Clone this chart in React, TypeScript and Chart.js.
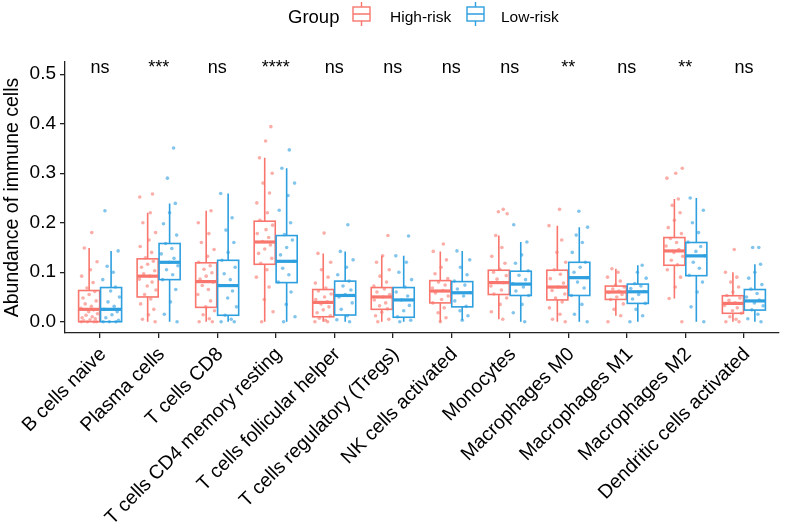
import React, { useEffect, useRef } from "react";
import { Chart, registerables } from "chart.js";

Chart.register(...registerables);

const CATEGORIES = [
  "B cells naive",
  "Plasma cells",
  "T cells CD8",
  "T cells CD4 memory resting",
  "T cells follicular helper",
  "T cells regulatory (Tregs)",
  "NK cells activated",
  "Monocytes",
  "Macrophages M0",
  "Macrophages M1",
  "Macrophages M2",
  "Dendritic cells activated",
];

const SIG_LABELS = ["ns", "***", "ns", "****", "ns", "ns", "ns", "ns", "**", "ns", "**", "ns"];

const GROUP_TITLE = "Group";
const GROUPS = ["High-risk", "Low-risk"];

const Y_TICKS = [0, 0.1, 0.2, 0.3, 0.4, 0.5];

// box statistics: [lower whisker, Q1, median, Q3, upper whisker]
const HIGH_BOX = [
  [0, 0, 0.025, 0.063, 0.149],
  [0, 0.05, 0.092, 0.127, 0.22],
  [0, 0.029, 0.081, 0.119, 0.224],
  [0, 0.116, 0.161, 0.203, 0.331],
  [0, 0.01, 0.039, 0.065, 0.138],
  [0, 0.025, 0.05, 0.069, 0.133],
  [0, 0.038, 0.062, 0.083, 0.142],
  [0.005, 0.055, 0.079, 0.104, 0.174],
  [0, 0.044, 0.07, 0.104, 0.194],
  [0.012, 0.045, 0.06, 0.072, 0.107],
  [0.047, 0.114, 0.143, 0.17, 0.248],
  [0, 0.017, 0.037, 0.0525, 0.1],
];

const LOW_BOX = [
  [0, 0, 0.025, 0.069, 0.143],
  [0, 0.085, 0.12, 0.158, 0.239],
  [0, 0.013, 0.073, 0.124, 0.259],
  [0, 0.079, 0.122, 0.174, 0.31],
  [0, 0.0135, 0.053, 0.082, 0.142],
  [0, 0.009, 0.044, 0.069, 0.133],
  [0.003, 0.03, 0.0585, 0.081, 0.143],
  [0, 0.053, 0.076, 0.102, 0.161],
  [0, 0.053, 0.089, 0.12, 0.191],
  [0, 0.037, 0.0605, 0.076, 0.114],
  [0, 0.093, 0.133, 0.16, 0.25],
  [0, 0.0235, 0.042, 0.065, 0.116],
];

// individual sample values (estimated from the jittered points)
const HIGH_POINTS = [
  [0, 0, 0, 0, 0.002, 0.004, 0.006, 0.008, 0.01, 0.013, 0.016, 0.02, 0.024, 0.027, 0.031, 0.036, 0.042, 0.048, 0.055, 0.061, 0.068, 0.079, 0.092, 0.105, 0.121, 0.149, 0.18],
  [0, 0.005, 0.014, 0.025, 0.036, 0.046, 0.055, 0.064, 0.072, 0.08, 0.086, 0.092, 0.097, 0.103, 0.11, 0.116, 0.122, 0.129, 0.14, 0.152, 0.165, 0.18, 0.2, 0.22, 0.252, 0.258],
  [0, 0, 0.006, 0.014, 0.022, 0.03, 0.042, 0.055, 0.065, 0.073, 0.08, 0.086, 0.092, 0.099, 0.106, 0.113, 0.12, 0.132, 0.146, 0.16, 0.178, 0.2, 0.224],
  [0, 0.02, 0.045, 0.07, 0.09, 0.105, 0.118, 0.128, 0.138, 0.147, 0.155, 0.162, 0.17, 0.178, 0.186, 0.195, 0.205, 0.22, 0.24, 0.26, 0.28, 0.3, 0.331, 0.365, 0.394],
  [0, 0, 0.003, 0.007, 0.012, 0.018, 0.024, 0.03, 0.036, 0.04, 0.045, 0.05, 0.056, 0.062, 0.068, 0.078, 0.09, 0.105, 0.12, 0.138, 0.179],
  [0, 0.005, 0.012, 0.019, 0.026, 0.032, 0.038, 0.044, 0.05, 0.055, 0.06, 0.066, 0.072, 0.08, 0.092, 0.105, 0.12, 0.133, 0.174],
  [0, 0.008, 0.018, 0.028, 0.038, 0.045, 0.052, 0.058, 0.063, 0.068, 0.074, 0.08, 0.087, 0.097, 0.11, 0.125, 0.142, 0.157],
  [0.005, 0.02, 0.035, 0.048, 0.056, 0.064, 0.072, 0.079, 0.086, 0.093, 0.1, 0.106, 0.118, 0.132, 0.15, 0.174, 0.218, 0.222, 0.227],
  [0, 0.005, 0.015, 0.028, 0.04, 0.048, 0.056, 0.063, 0.07, 0.078, 0.087, 0.096, 0.105, 0.12, 0.14, 0.165, 0.194, 0.227],
  [0, 0.012, 0.025, 0.036, 0.045, 0.05, 0.055, 0.059, 0.062, 0.066, 0.07, 0.074, 0.082, 0.09, 0.1, 0.107],
  [0, 0.047, 0.07, 0.09, 0.105, 0.115, 0.124, 0.132, 0.14, 0.146, 0.153, 0.16, 0.168, 0.178, 0.19, 0.205, 0.22, 0.235, 0.248, 0.29, 0.3, 0.31],
  [0, 0, 0.005, 0.01, 0.017, 0.022, 0.028, 0.033, 0.038, 0.043, 0.048, 0.053, 0.06, 0.07, 0.08, 0.09, 0.1, 0.146],
];

const LOW_POINTS = [
  [0, 0, 0, 0.003, 0.008, 0.014, 0.02, 0.025, 0.031, 0.04, 0.05, 0.062, 0.07, 0.085, 0.1, 0.112, 0.143, 0.224],
  [0, 0.015, 0.04, 0.065, 0.085, 0.095, 0.105, 0.113, 0.12, 0.128, 0.137, 0.148, 0.158, 0.175, 0.198, 0.22, 0.239, 0.29, 0.351],
  [0, 0, 0.005, 0.013, 0.03, 0.048, 0.062, 0.073, 0.085, 0.097, 0.11, 0.124, 0.14, 0.16, 0.185, 0.21, 0.259],
  [0, 0.01, 0.035, 0.06, 0.08, 0.095, 0.108, 0.122, 0.135, 0.15, 0.165, 0.176, 0.2, 0.225, 0.255, 0.28, 0.31, 0.347],
  [0, 0.004, 0.012, 0.025, 0.038, 0.05, 0.055, 0.064, 0.072, 0.082, 0.095, 0.11, 0.125, 0.142, 0.196],
  [0, 0.003, 0.01, 0.022, 0.033, 0.044, 0.052, 0.06, 0.07, 0.085, 0.1, 0.12, 0.133, 0.173],
  [0.003, 0.012, 0.022, 0.031, 0.042, 0.052, 0.059, 0.066, 0.074, 0.082, 0.095, 0.11, 0.125, 0.143],
  [0, 0.018, 0.035, 0.053, 0.062, 0.07, 0.077, 0.085, 0.094, 0.103, 0.118, 0.135, 0.161, 0.196],
  [0, 0.015, 0.035, 0.053, 0.068, 0.08, 0.089, 0.1, 0.11, 0.12, 0.14, 0.16, 0.175, 0.191, 0.223],
  [0, 0.012, 0.025, 0.037, 0.046, 0.055, 0.061, 0.067, 0.072, 0.077, 0.088, 0.1, 0.114],
  [0, 0.03, 0.06, 0.08, 0.094, 0.108, 0.12, 0.133, 0.142, 0.152, 0.161, 0.18, 0.2, 0.225, 0.25],
  [0, 0.006, 0.015, 0.024, 0.032, 0.038, 0.044, 0.05, 0.057, 0.066, 0.075, 0.088, 0.1, 0.116, 0.15, 0.15],
];

// styling
const RED = "#F8766D";
const BLUE = "#2E9FDF";
const RED_PT = "rgba(248,118,109,0.6)";
const BLUE_PT = "rgba(46,159,223,0.6)";
const DODGE = 0.1875;
const BOX_HALF = 0.18;
const JITTER = [-0.9, 0.55, -0.2, 0.85, -0.6, 0.1, 0.7, -0.8, 0.35, -0.35, 0.95, -0.05, 0.5, -0.95, 0.25, -0.45, 0.8, -0.7, 0.0, 0.65, -0.25, 0.45, -0.85, 0.15, 0.9, -0.55, 0.3];
const JITTER_W = 0.15;
const FONT = "'Liberation Sans', Arial, Helvetica, sans-serif";

function buildPoints(groups: number[][], dodge: number) {
  const out: { x: number; y: number }[] = [];
  groups.forEach((vals, i) => {
    vals.forEach((v, j) => {
      out.push({ x: i + dodge + JITTER[(j + i * 3) % JITTER.length] * JITTER_W, y: v });
    });
  });
  return out;
}

const boxPlugin = {
  id: "boxplots",
  afterDatasetsDraw(chart: any) {
    const { ctx, scales } = chart;
    const x = scales.x;
    const y = scales.y;
    const draw = (stats: number[][], dodge: number, color: string) => {
      stats.forEach((s, i) => {
        const [lo, q1, med, q3, hi] = s;
        const cx = x.getPixelForValue(i + dodge);
        const l = x.getPixelForValue(i + dodge - BOX_HALF);
        const r = x.getPixelForValue(i + dodge + BOX_HALF);
        const yq1 = y.getPixelForValue(q1);
        const yq3 = y.getPixelForValue(q3);
        const ym = y.getPixelForValue(med);
        ctx.save();
        ctx.strokeStyle = color;
        ctx.lineWidth = 1.6;
        ctx.beginPath();
        ctx.moveTo(cx, yq3);
        ctx.lineTo(cx, y.getPixelForValue(hi));
        ctx.moveTo(cx, yq1);
        ctx.lineTo(cx, y.getPixelForValue(lo));
        ctx.stroke();
        ctx.strokeRect(l, yq3, r - l, yq1 - yq3);
        ctx.lineWidth = 3.2;
        ctx.beginPath();
        ctx.moveTo(l, ym);
        ctx.lineTo(r, ym);
        ctx.stroke();
        ctx.restore();
      });
    };
    draw(HIGH_BOX, -DODGE, RED);
    draw(LOW_BOX, DODGE, BLUE);

    // significance labels
    ctx.save();
    ctx.fillStyle = "#000";
    ctx.font = `18px ${FONT}`;
    ctx.textAlign = "center";
    ctx.textBaseline = "alphabetic";
    SIG_LABELS.forEach((lab, i) => {
      ctx.fillText(lab, x.getPixelForValue(i), y.getPixelForValue(0.5) - 1);
    });
    ctx.restore();
  },
  afterDraw(chart: any) {
    const { ctx } = chart;
    ctx.save();
    ctx.fillStyle = "#000";
    ctx.textBaseline = "alphabetic";
    ctx.textAlign = "left";
    ctx.font = `18.5px ${FONT}`;
    ctx.fillText(GROUP_TITLE, 288, 23);
    const icon = (x0: number, color: string) => {
      const w = 17;
      const cx = x0 + w / 2;
      ctx.strokeStyle = color;
      ctx.lineWidth = 1.4;
      ctx.beginPath();
      ctx.moveTo(cx, 2);
      ctx.lineTo(cx, 7);
      ctx.moveTo(cx, 21);
      ctx.lineTo(cx, 26);
      ctx.moveTo(x0, 14);
      ctx.lineTo(x0 + w, 14);
      ctx.stroke();
      ctx.strokeRect(x0, 7, w, 14);
    };
    icon(353, RED);
    icon(467, BLUE);
    ctx.font = `15.5px ${FONT}`;
    ctx.fillText(GROUPS[0], 390, 22);
    ctx.fillText(GROUPS[1], 501, 22);
    ctx.restore();
  },
};

export default function App() {
  const ref = useRef<HTMLCanvasElement>(null);
  useEffect(() => {
    document.body.style.margin = "0";
    if (!ref.current) return;
    const chart = new Chart(ref.current, {
      type: "scatter",
      data: {
        datasets: [
          {
            label: GROUPS[0],
            data: buildPoints(HIGH_POINTS, -DODGE),
            backgroundColor: RED_PT,
            borderWidth: 0,
            pointRadius: 1.8,
          },
          {
            label: GROUPS[1],
            data: buildPoints(LOW_POINTS, DODGE),
            backgroundColor: BLUE_PT,
            borderWidth: 0,
            pointRadius: 1.8,
          },
        ],
      },
      options: {
        animation: false,
        responsive: false,
        layout: { padding: { top: 62, right: 7, left: 0, bottom: 0 } },
        plugins: { legend: { display: false }, tooltip: { enabled: false } },
        scales: {
          x: {
            type: "linear",
            min: -0.6,
            max: 11.6,
            afterBuildTicks: (scale: any) => {
              scale.ticks = CATEGORIES.map((_, i) => ({ value: i }));
            },
            afterFit: (scale: any) => {
              scale.height = 193;
            },
            ticks: {
              autoSkip: false,
              minRotation: 45,
              maxRotation: 45,
              color: "#000",
              padding: 5,
              labelOffset: 3,
              font: { family: FONT, size: 19.5 },
              callback: (v: any) => CATEGORIES[Math.round(Number(v))] ?? "",
            },
            grid: { drawOnChartArea: false, drawTicks: true, tickLength: 5, color: "#222", lineWidth: 1.3 },
            border: { display: true, color: "#222", width: 1.3 },
          },
          y: {
            min: -0.0228,
            max: 0.5246,
            afterBuildTicks: (scale: any) => {
              scale.ticks = Y_TICKS.map((v) => ({ value: v }));
            },
            afterFit: (scale: any) => {
              scale.width = 65;
            },
            ticks: {
              color: "#000",
              padding: 4,
              font: { family: FONT, size: 19 },
              callback: (v: any) => Number(v).toFixed(1),
            },
            title: {
              display: true,
              text: "Abundance of immune cells",
              color: "#000",
              padding: 1,
              font: { family: FONT, size: 19.5 },
            },
            grid: { drawOnChartArea: false, drawTicks: true, tickLength: 5, color: "#222", lineWidth: 1.3 },
            border: { display: true, color: "#222", width: 1.3 },
          },
        },
      },
      plugins: [boxPlugin],
    } as any);
    return () => chart.destroy();
  }, []);
  return <canvas ref={ref} width={786} height={526} style={{ display: "block" }} />;
}
